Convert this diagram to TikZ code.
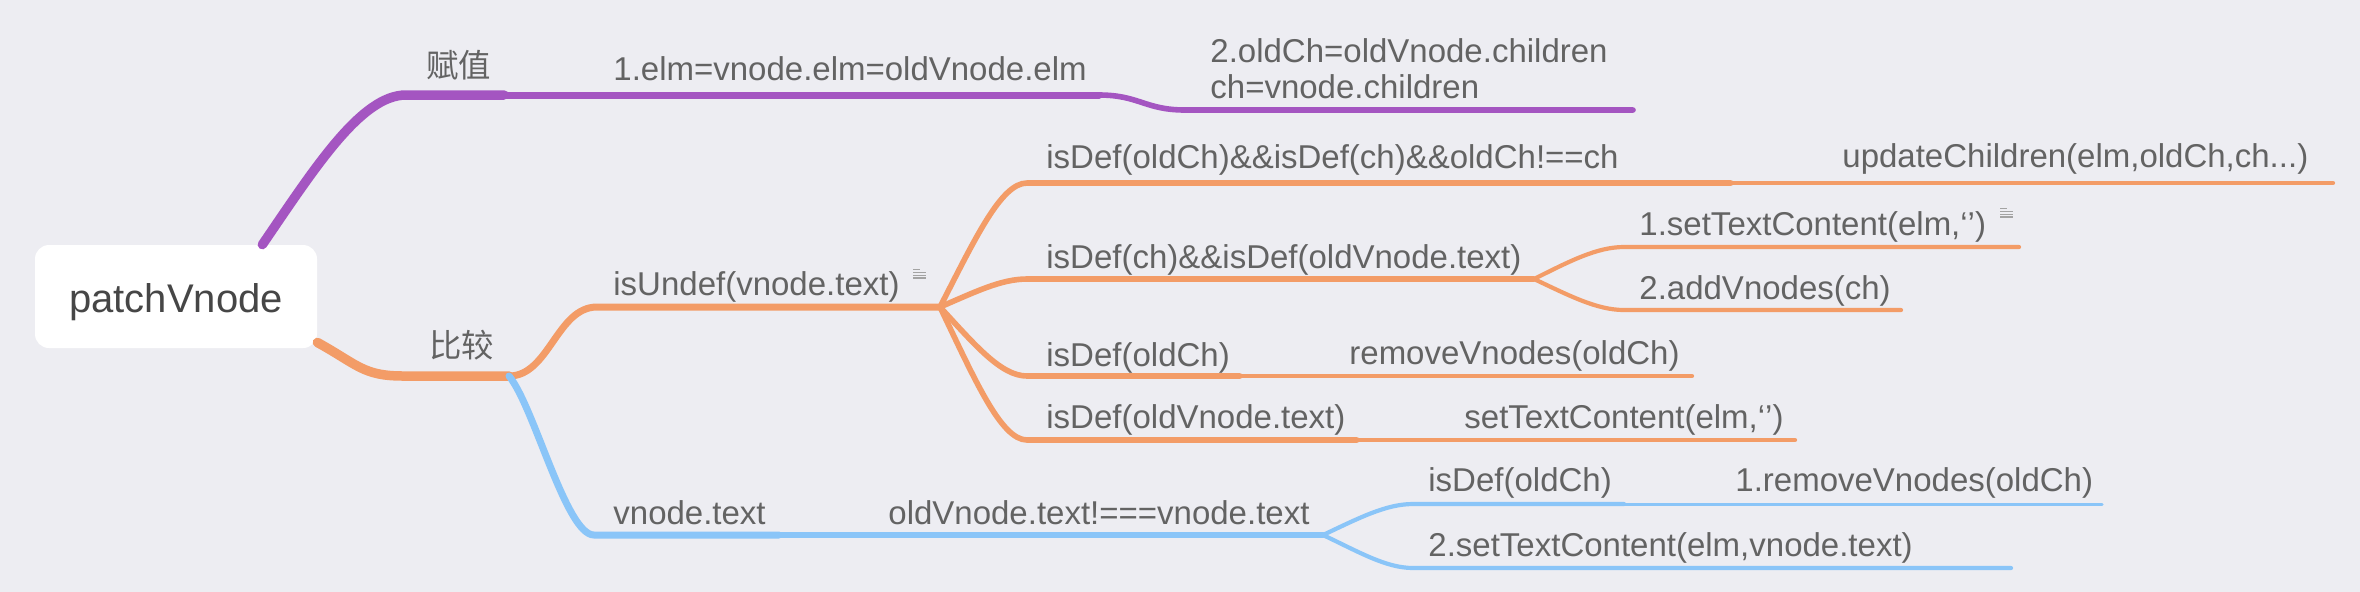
\documentclass[tikz,border=0pt]{standalone}
\usepackage{fontspec}
\setmainfont{Liberation Sans}
\newfontfamily\cjk{Noto Sans CJK SC}
\usepackage{tikz}

\definecolor{bgc}{HTML}{EDEDF2}
\definecolor{purp}{HTML}{A455C1}
\definecolor{oran}{HTML}{F39C67}
\definecolor{blu}{HTML}{8AC5F8}
\definecolor{txtc}{HTML}{636363}
\definecolor{rootc}{HTML}{464646}
\definecolor{notec}{HTML}{A3A3A3}

\tikzset{
  lbl/.style={anchor=base west, inner sep=0pt, text=txtc, font=\fontsize{16.5}{18}\selectfont},
  cjklbl/.style={lbl, font=\cjk\fontsize{16.2}{18}\selectfont},
  rootbox/.style={fill=white, rounded corners=7pt, minimum width=141pt, minimum height=51.5pt,
    inner sep=0pt, text=rootc, font=\fontsize{20}{24}\selectfont, text height=15.5pt, text depth=0pt},
  lv1/.style={line width=4.75pt, line cap=round},
  lv2/.style={line width=3.5pt, line cap=round},
  lv3/.style={line width=2.8pt, line cap=round},
  lv4/.style={line width=2.1pt, line cap=round},
  lv5/.style={line width=1.5pt, line cap=round},
  noteicon/.pic={\draw [notec, line width=0.65pt] (0,0) -- (13,0) (0,2.8) -- (13,2.8) (0,5.6) -- (13,5.6) (0,8.4) -- (7,8.4);}
}

\begin{document}
\begin{tikzpicture}[x=0.5pt,y=0.5pt,yscale=-1,xscale=1]
\useasboundingbox (0,0) rectangle (2360,591);
\fill [bgc] (-2,-2) rectangle (2362,593);

% Root Node
\node [rootbox] (root) at (176,296.5) {patchVnode};

% Line Points
\coordinate (assign-s) at (406,95);
\coordinate (assign-e) at (504,95);
\coordinate (elm-e) at (1099,95);
\coordinate (oldch-s) at (1185,110);
\coordinate (oldch-e) at (1633,110);
\coordinate (cmp-s) at (403,376);
\coordinate (cmp-e) at (509,376);
\coordinate (undef-s) at (597,307);
\coordinate (undef-e) at (940,307);
\coordinate (both-s) at (1027,183);
\coordinate (both-e) at (1731,183);
\coordinate (upd-e) at (2333,183);
\coordinate (chtext-s) at (1027,279);
\coordinate (chtext-e) at (1534,279);
\coordinate (set1-s) at (1624,247);
\coordinate (set1-e) at (2019,247);
\coordinate (add-s) at (1624,310);
\coordinate (add-e) at (1901,310);
\coordinate (oldch1-s) at (1027,376);
\coordinate (oldch1-e) at (1240,376);
\coordinate (rm-e) at (1692,376);
\coordinate (oldtext-s) at (1027,440);
\coordinate (oldtext-e) at (1357,440);
\coordinate (settext-e) at (1795,440);
\coordinate (vtext-s) at (594,535);
\coordinate (vtext-e) at (779,535);
\coordinate (neq-e) at (1323,535);
\coordinate (bdef-s) at (1413,504);
\coordinate (bdef-e) at (1624,504);
\coordinate (brm-e) at (2102,504);
\coordinate (bset-s) at (1413,568);
\coordinate (bset-e) at (2011,568);

%Curve Lines (assign)
\draw [purp, lv1] (root.31) .. controls +(52,-76) and +(-45,0) .. (assign-s) -- (assign-e);
\draw [purp, lv2] (assign-e) -- (elm-e);
\draw [purp, lv3] (elm-e) .. controls +(40,0) and +(-40,0) .. (oldch-s) -- (oldch-e);

%Curve Lines (compare)
\draw [oran, lv1] (root.-18) .. controls +(40,22) and +(-40,0) .. (cmp-s) -- (cmp-e);
\draw [oran, lv2] (cmp-e) .. controls +(40,0) and +(-40,0) .. (undef-s) -- (undef-e);
\draw [oran, lv3] (undef-e) .. controls +(35,-68) and +(-26,0) .. (both-s) -- (both-e);
\draw [oran, lv4] (both-e) -- (upd-e);
\draw [oran, lv3] (undef-e) .. controls +(35,-15) and +(-26,0) .. (chtext-s) -- (chtext-e);
\draw [oran, lv4] (chtext-e) .. controls +(36,-18) and +(-27,0) .. (set1-s) -- (set1-e);
\draw [oran, lv4] (chtext-e) .. controls +(36,17) and +(-27,0) .. (add-s) -- (add-e);
\draw [oran, lv3] (undef-e) .. controls +(35,38) and +(-26,0) .. (oldch1-s) -- (oldch1-e);
\draw [oran, lv4] (oldch1-e) -- (rm-e);
\draw [oran, lv3] (undef-e) .. controls +(35,73) and +(-26,0) .. (oldtext-s) -- (oldtext-e);
\draw [oran, lv4] (oldtext-e) -- (settext-e);
\draw [blu, lv2] (cmp-e) .. controls +(25,30) and +(-28,0) .. (vtext-s) -- (vtext-e);
\draw [blu, lv3] (vtext-e) -- (neq-e);
\draw [blu, lv4] (neq-e) .. controls +(36,-17) and +(-27,0) .. (bdef-s) -- (bdef-e);
\draw [blu, lv5] (bdef-e) -- (brm-e);
\draw [blu, lv4] (neq-e) .. controls +(36,17) and +(-27,0) .. (bset-s) -- (bset-e);

% Text Node
\node [cjklbl] (assign) at (426,77) {赋值};
\node [lbl] (elm) at (613,80) {1.elm=vnode.elm=oldVnode.elm};
\node [lbl, align=left] (oldch) at (1210,98) {2.oldCh=oldVnode.children\\ch=vnode.children};
\node [cjklbl] (cmp) at (429,357) {比较};
\node [lbl] (undef) at (613,295) {isUndef(vnode.text)};
\node [lbl] (both) at (1046,168) {isDef(oldCh)\&\&isDef(ch)\&\&oldCh!==ch};
\node [lbl] (upd) at (1842,167) {updateChildren(elm,oldCh,ch...)};
\node [lbl] (chtext) at (1046,268) {isDef(ch)\&\&isDef(oldVnode.text)};
\node [lbl] (set1) at (1639,235) {1.setTextContent(elm,‘’)};
\node [lbl] (add) at (1639,299) {2.addVnodes(ch)};
\node [lbl] (oldch1) at (1046,366) {isDef(oldCh)};
\node [lbl] (rm) at (1349,364) {removeVnodes(oldCh)};
\node [lbl] (oldtext) at (1046,428) {isDef(oldVnode.text)};
\node [lbl] (settext) at (1464,428) {setTextContent(elm,‘’)};
\node [lbl] (vtext) at (613,524) {vnode.text};
\node [lbl] (neq) at (888,524) {oldVnode.text!===vnode.text};
\node [lbl] (bdef) at (1428,491) {isDef(oldCh)};
\node [lbl] (brm) at (1735,491) {1.removeVnodes(oldCh)};
\node [lbl] (bset) at (1428,556) {2.setTextContent(elm,vnode.text)};

% Note Icons
\pic at (913,278) {noteicon};
\pic at (2000,217) {noteicon};

\end{tikzpicture}
\end{document}
